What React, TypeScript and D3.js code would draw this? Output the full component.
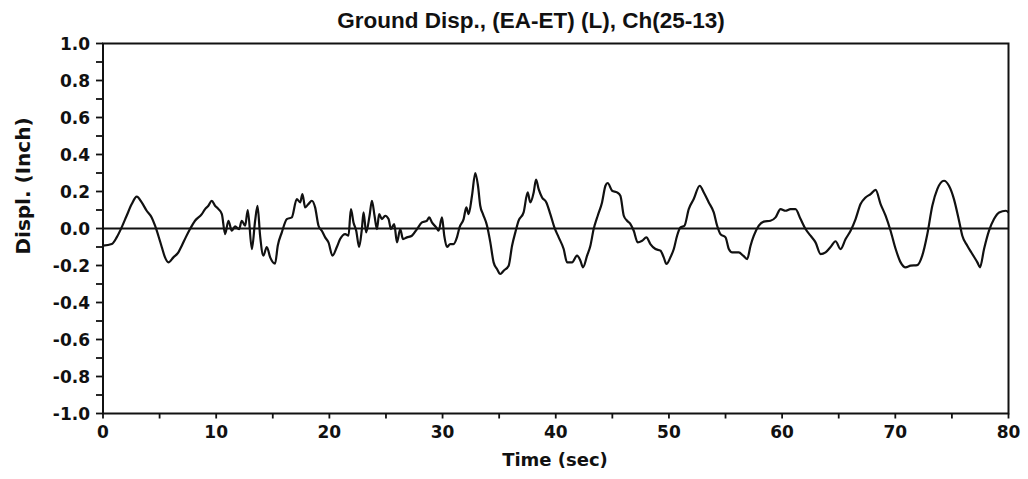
import React from "react";
import * as d3 from "d3";

const TITLE = "Ground Disp., (EA-ET) (L), Ch(25-13)";
const X_LABEL = "Time (sec)";
const Y_LABEL = "Displ. (Inch)";

const xTickValues = [0, 10, 20, 30, 40, 50, 60, 70, 80];
const yTickValues = [-1.0, -0.8, -0.6, -0.4, -0.2, 0.0, 0.2, 0.4, 0.6, 0.8, 1.0];

const times = [
  0, 0.77, 1.21, 1.65, 2.09, 2.54, 2.98, 3.42, 3.86, 4.3, 4.6, 4.89, 5.19, 5.48, 5.78, 6.22, 6.66, 6.96, 7.31, 7.69,
  8.13, 8.73, 9.02, 9.31, 9.61, 9.9, 10.2, 10.5, 10.79, 11.08, 11.38, 11.67, 12.02, 12.26, 12.56, 12.79, 13.15, 13.44, 13.65, 13.88,
  14.17, 14.47, 14.77, 15.2, 15.44, 15.8, 16.24, 16.68, 17.12, 17.42, 17.62, 17.86, 18.15, 18.45, 18.74, 19.04, 19.33, 19.63, 19.92, 20.27,
  20.66, 20.95, 21.4, 21.69, 21.9, 22.13, 22.37, 22.63, 22.87, 23.02, 23.25, 23.55, 23.76, 23.99, 24.2, 24.4, 24.64, 24.93, 25.23, 25.44,
  25.73, 25.97, 26.26, 26.5, 26.85, 27.29, 27.74, 28.18, 28.62, 28.82, 29.06, 29.44, 29.65, 29.95, 30.15, 30.39, 30.68, 30.97, 31.27, 31.5,
  31.86, 32.1, 32.3, 32.6, 32.89, 33.13, 33.33, 33.57, 33.93, 34.22, 34.51, 34.81, 35.1, 35.4, 35.84, 36.14, 36.43, 36.72, 37.16, 37.52,
  37.75, 38.05, 38.26, 38.49, 38.79, 39.17, 39.52, 39.88, 40.26, 40.7, 41.0, 41.44, 41.88, 42.18, 42.41, 42.77, 43.06, 43.35, 43.71, 44.09,
  44.39, 44.59, 44.98, 45.42, 45.71, 46.01, 46.3, 46.6, 46.89, 47.24, 47.63, 48.01, 48.36, 48.81, 49.25, 49.54, 49.78, 50.13, 50.43, 50.72,
  51.02, 51.37, 51.75, 52.19, 52.72, 53.08, 53.52, 53.96, 54.26, 54.55, 55.0, 55.29, 55.59, 56.17, 56.56, 56.91, 57.21, 57.5, 57.94, 58.38,
  58.97, 59.42, 59.86, 60.3, 60.74, 61.18, 61.63, 62.07, 62.51, 62.95, 63.4, 63.84, 64.28, 64.72, 65.16, 65.61, 66.05, 66.49, 66.93, 67.37,
  67.82, 68.26, 68.7, 69.14, 69.58, 70.03, 70.47, 70.91, 71.35, 71.94, 72.38, 72.83, 73.27, 73.71, 74.3, 74.74, 75.18, 75.63, 75.92, 76.36,
  76.8, 77.25, 77.48, 77.84, 78.28, 78.72, 79.17, 79.76, 80.0,
];

const displ = [
  -0.093, -0.084, -0.048, 0.006, 0.069, 0.132, 0.172, 0.141, 0.096, 0.06, 0.015, -0.039, -0.1, -0.156, -0.183, -0.156, -0.129, -0.093, -0.048, -0.003,
  0.042, 0.078, 0.105, 0.123, 0.15, 0.123, 0.105, 0.078, -0.03, 0.042, -0.012, 0.012, -0.003, 0.042, 0.015, 0.1, -0.111, 0.042, 0.123, -0.039,
  -0.147, -0.1, -0.156, -0.19, -0.093, -0.021, 0.051, 0.06, 0.159, 0.141, 0.186, 0.114, 0.132, 0.15, 0.114, 0.015, -0.012, -0.048, -0.075, -0.147,
  -0.1, -0.057, -0.03, -0.039, 0.105, 0.033, -0.012, -0.1, -0.003, 0.087, -0.021, 0.069, 0.15, 0.069, -0.003, 0.078, 0.051, 0.069, 0.051, -0.003,
  0.024, -0.075, -0.003, -0.057, -0.048, -0.039, -0.003, 0.033, 0.042, 0.06, 0.033, 0.006, -0.012, 0.06, -0.039, -0.1, -0.084, -0.084, -0.048, 0.006,
  0.051, 0.114, 0.078, 0.177, 0.3, 0.231, 0.123, 0.078, 0.015, -0.075, -0.183, -0.219, -0.246, -0.228, -0.201, -0.093, -0.021, 0.042, 0.087, 0.195,
  0.141, 0.195, 0.264, 0.213, 0.168, 0.141, 0.078, 0.006, -0.048, -0.111, -0.183, -0.183, -0.147, -0.174, -0.21, -0.147, -0.093, -0.003, 0.069, 0.141,
  0.231, 0.246, 0.204, 0.195, 0.177, 0.069, 0.042, 0.024, -0.012, -0.075, -0.066, -0.048, -0.084, -0.111, -0.12, -0.156, -0.192, -0.156, -0.111, -0.039,
  0.006, 0.015, 0.105, 0.159, 0.231, 0.195, 0.141, 0.087, 0.015, -0.03, -0.048, -0.111, -0.129, -0.129, -0.147, -0.165, -0.093, -0.039, 0.015, 0.037,
  0.042, 0.06, 0.105, 0.096, 0.105, 0.105, 0.051, -0.003, -0.039, -0.075, -0.138, -0.129, -0.1, -0.069, -0.111, -0.057, -0.012, 0.051, 0.132, 0.168,
  0.186, 0.209, 0.132, 0.069, -0.012, -0.111, -0.183, -0.21, -0.201, -0.198, -0.147, -0.03, 0.123, 0.213, 0.258, 0.231, 0.159, 0.042, -0.039, -0.093,
  -0.138, -0.183, -0.21, -0.111, -0.012, 0.051, 0.087, 0.096, 0.087,
];

const W = 1028;
const H = 479;
const LEFT = 103;
const RIGHT = 1008.5;
const TOP = 43.5;
const BOTTOM = 413.5;

export default function App() {
  const x = d3.scaleLinear().domain([0, 80]).range([LEFT, RIGHT]);
  const y = d3.scaleLinear().domain([-1, 1]).range([BOTTOM, TOP]);
  const pts: [number, number][] = times.map((t, i) => [t, displ[i]]);
  const line = d3
    .line<[number, number]>()
    .x((d) => x(d[0]))
    .y((d) => y(d[1]))
    .curve(d3.curveMonotoneX);

  const xMinor = d3.range(0, 81, 5);
  const yMinor = d3.range(-10, 11).map((v) => v / 10);
  const axisFont = "'DejaVu Sans', sans-serif";

  return (
    <svg
      width={W}
      height={H}
      style={{ position: "absolute", left: 0, top: 0, background: "#fff" }}
    >
      <rect x={0} y={0} width={W} height={H} fill="#fff" />
      <text
        x={531}
        y={28}
        textAnchor="middle"
        fontFamily="'Liberation Sans', Arial, sans-serif"
        fontWeight="bold"
        fontSize={22.5}
        fill="#111"
      >
        {TITLE}
      </text>

      {/* frame */}
      <rect
        x={LEFT}
        y={TOP}
        width={RIGHT - LEFT}
        height={BOTTOM - TOP}
        fill="none"
        stroke="#111"
        strokeWidth={2}
      />
      {/* zero line */}
      <line x1={LEFT} x2={RIGHT} y1={y(0)} y2={y(0)} stroke="#111" strokeWidth={1.8} />

      {/* y ticks */}
      {yMinor.map((v, i) => (
        <line key={"ym" + i} x1={LEFT - 7} x2={LEFT} y1={y(v)} y2={y(v)} stroke="#111" strokeWidth={1.8} />
      ))}
      {yTickValues.map((v, i) => (
        <text
          key={"yt" + i}
          x={90}
          y={y(v) + 6}
          textAnchor="end"
          fontFamily={axisFont}
          fontWeight="bold"
          fontSize={17}
          fill="#111"
        >
          {v.toFixed(1)}
        </text>
      ))}

      {/* x ticks */}
      {xMinor.map((v, i) => (
        <line key={"xm" + i} x1={x(v)} x2={x(v)} y1={BOTTOM} y2={BOTTOM + 5} stroke="#111" strokeWidth={1.8} />
      ))}
      {xTickValues.map((v, i) => (
        <text
          key={"xt" + i}
          x={x(v)}
          y={438}
          textAnchor="middle"
          fontFamily={axisFont}
          fontWeight="bold"
          fontSize={17}
          fill="#111"
        >
          {String(v)}
        </text>
      ))}

      <text
        x={555}
        y={466}
        textAnchor="middle"
        fontFamily={axisFont}
        fontWeight="bold"
        fontSize={18}
        fill="#111"
      >
        {X_LABEL}
      </text>
      <text
        transform="translate(30,186) rotate(-90)"
        textAnchor="middle"
        fontFamily={axisFont}
        fontWeight="bold"
        fontSize={20}
        fill="#111"
      >
        {Y_LABEL}
      </text>

      <path d={line(pts) || ""} fill="none" stroke="#111" strokeWidth={2.2} strokeLinejoin="round" />
    </svg>
  );
}
